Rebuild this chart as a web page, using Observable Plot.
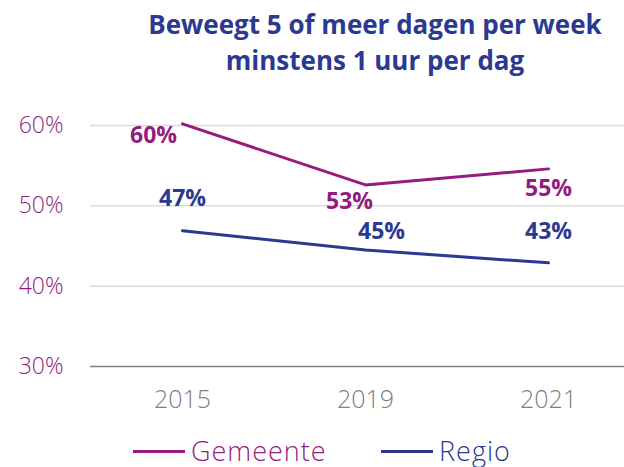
<!DOCTYPE html>
<html>
<head>
<meta charset="utf-8">
<script src="https://cdn.jsdelivr.net/npm/d3@7"></script>
<script src="https://cdn.jsdelivr.net/npm/@observablehq/plot@0.6"></script>
<style>
  html, body { margin: 0; padding: 0; background: #fff; }
  body { width: 624px; height: 467px; font-family: "Open Sans", sans-serif; position: relative; }
  #title { height: 90px; box-sizing: border-box; padding-top: 6px; padding-left: 126px; text-align: center;
           color: #2b3990; font-weight: 700; font-size: 26px; line-height: 36px; white-space: nowrap; }
  #legend { position: absolute; top: 437px; left: 0; width: 624px; height: 30px; }
  .item { position: absolute; top: 0; display: flex; align-items: center; font-size: 27px; font-weight: 300; line-height: 28px; letter-spacing: 1px; }
  .swatch { display: inline-block; width: 52px; height: 3px; margin-right: 6px; }
</style>
</head>
<body>
<div id="title">Beweegt 5 of meer dagen per week<br>minstens 1 uur per dag</div>
<div id="chart"></div>
<div id="legend"></div>
<script>
const years = ["2015", "2019", "2021"];
const seriesNames = ["Gemeente", "Regio"];
const gemeente = [60.2, 52.6, 54.6];
const regio = [46.9, 44.5, 42.9];
const yTicks = [30, 40, 50, 60];
const colors = ["#951b81", "#2b3990"];

// label offsets (pixels) per point, style only
const labelOffsets = {
  Gemeente: [[-29, 12], [-16, 17], [0, 20]],
  Regio: [[0, -32], [16, -18], [0, -31]]
};

const rows = [];
years.forEach((yr, i) => {
  rows.push({year: yr, series: "Gemeente", value: gemeente[i], idx: i});
  rows.push({year: yr, series: "Regio", value: regio[i], idx: i});
});

const labelMarks = rows.map(r => Plot.text([r], {
  x: "year", y: "value",
  text: d => Math.round(d.value) + "%",
  fill: colors[seriesNames.indexOf(r.series)],
  dx: labelOffsets[r.series][r.idx][0],
  dy: labelOffsets[r.series][r.idx][1],
  fontSize: 23, fontWeight: 700
}));

const chart = Plot.plot({
  width: 624,
  height: 340,
  marginTop: 35,
  marginBottom: 64,
  marginLeft: 90,
  marginRight: 0,
  style: {fontFamily: "'Open Sans', sans-serif", background: "white", overflow: "visible"},
  x: {type: "point", domain: years, range: [181, 548], padding: 0, axis: null, label: null},
  y: {domain: [30, 60], axis: null, label: null},
  color: {domain: seriesNames, range: colors},
  marks: [
    Plot.ruleY([40, 50, 60], {stroke: "#dcdcdc", strokeWidth: 1.5}),
    Plot.ruleY([30], {stroke: "#808080", strokeWidth: 1.5}),
    Plot.axisY(yTicks, {tickSize: 0, tickPadding: 27, tickFormat: d => d + "%", fill: "#951b81", fontSize: 23, fontWeight: 300, label: null}),
    Plot.axisX(years, {tickSize: 0, tickPadding: 24, fill: "#808080", fontSize: 25, fontWeight: 300, label: null}),
    Plot.line(rows, {x: "year", y: "value", z: "series", stroke: "series", strokeWidth: 3, strokeLinecap: "round"}),
    ...labelMarks
  ]
});
document.getElementById("chart").appendChild(chart);

const legend = document.getElementById("legend");
const lefts = [133, 381];
seriesNames.forEach((s, i) => {
  const it = document.createElement("div");
  it.className = "item";
  it.style.left = lefts[i] + "px";
  it.style.color = colors[i];
  const sw = document.createElement("span");
  sw.className = "swatch";
  sw.style.background = colors[i];
  it.appendChild(sw);
  it.appendChild(document.createTextNode(s));
  legend.appendChild(it);
});
</script>
</body>
</html>
